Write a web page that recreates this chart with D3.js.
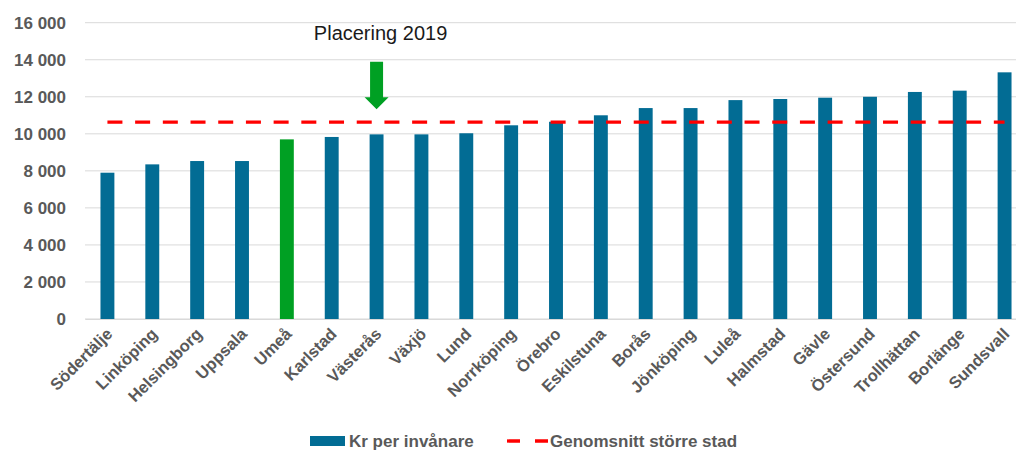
<!DOCTYPE html>
<html>
<head>
<meta charset="utf-8">
<script src="https://cdn.jsdelivr.net/npm/d3@7"></script>
<style>
  body { margin: 0; background: #fff; }
  svg { display: block; }
  text { font-family: "Liberation Sans", Arial, sans-serif; }
</style>
</head>
<body>
<svg id="chart"></svg>
<script>
// data
const cities = ["Södertälje", "Linköping", "Helsingborg", "Uppsala", "Umeå", "Karlstad", "Västerås",
    "Växjö", "Lund", "Norrköping", "Örebro", "Eskilstuna", "Borås", "Jönköping", "Luleå",
    "Halmstad", "Gävle", "Östersund", "Trollhättan", "Borlänge", "Sundsvall"];
const krPerInvanare = [7900, 8350, 8530, 8530, 9700, 9830, 9970, 9970, 10030, 10460, 10650,
    11000, 11390, 11390, 11820, 11880, 11950, 12000, 12260, 12330, 13320];
const genomsnitt = 10630;
const highlightCity = "Umeå";
const markedCity = "Västerås";
const annotationText = "Placering 2019";
const yTicks = [0, 2000, 4000, 6000, 8000, 10000, 12000, 14000, 16000];
const seriesNames = ["Kr per invånare", "Genomsnitt större stad"];

const width = 1016, height = 452;
const margin = { top: 22.7, right: -11, bottom: 133, left: 85 };
const innerW = width - margin.left - margin.right;
const innerH = height - margin.top - margin.bottom;

const blue = "#026c94", green = "#00a023", red = "#ff0000", grey = "#595959";

const svg = d3.select("#chart").attr("width", width).attr("height", height);
const g = svg.append("g").attr("transform", "translate(" + margin.left + "," + margin.top + ")");

const x = d3.scaleBand().domain(cities).range([0, innerW]).paddingInner(0.69).paddingOuter(0.345);
const y = d3.scaleLinear().domain([0, 16000]).range([innerH, 0]);

const fmt = v => d3.format(",")(v).replace(/,/g, "\u2009");

// gridlines
g.append("g").selectAll("line")
    .data(yTicks)
    .join("line")
    .attr("x1", 0).attr("x2", innerW)
    .attr("y1", d => y(d)).attr("y2", d => y(d))
    .attr("stroke", "#d9d9d9").attr("stroke-width", 1);

// y axis labels
const yAxis = g.append("g")
    .call(d3.axisLeft(y).tickValues(yTicks).tickSize(0).tickPadding(19)
        .tickFormat(d => d3.format(",")(d).replace(/,/g, " ")));
yAxis.select(".domain").remove();
yAxis.selectAll("text")
    .attr("fill", grey).attr("font-size", 17).attr("font-weight", "bold")
    .style("font-family", "'Liberation Sans', Arial, sans-serif");

// bars
g.append("g").selectAll("rect")
    .data(cities)
    .join("rect")
    .attr("x", d => x(d))
    .attr("width", x.bandwidth())
    .attr("y", (d, i) => y(krPerInvanare[i]))
    .attr("height", (d, i) => y(0) - y(krPerInvanare[i]))
    .attr("fill", d => d === highlightCity ? green : blue);

// x axis
const xAxis = g.append("g")
    .attr("transform", "translate(0," + innerH + ")")
    .call(d3.axisBottom(x).tickSize(0).tickPadding(0));
xAxis.select(".domain").attr("stroke", "#d9d9d9");
xAxis.selectAll("text")
    .attr("fill", grey).attr("font-size", 16.5).attr("font-weight", "bold")
    .style("font-family", "'Liberation Sans', Arial, sans-serif")
    .attr("text-anchor", "end")
    .attr("dy", 0)
    .attr("transform", "translate(6,16) rotate(-45)");

// average line
const first = cities[0], last = cities[cities.length - 1];
g.append("line")
    .attr("x1", x(first) + x.bandwidth() / 2)
    .attr("x2", x(last) + x.bandwidth() / 2)
    .attr("y1", y(genomsnitt)).attr("y2", y(genomsnitt))
    .attr("stroke", red).attr("stroke-width", 3.3)
    .attr("stroke-dasharray", "15 12.7");

// annotation
const ax = x(markedCity) + x.bandwidth() / 2;
g.append("text")
    .attr("x", ax + 4).attr("y", 17)
    .attr("text-anchor", "middle")
    .attr("font-size", 20).attr("fill", "#1a1a1a")
    .text(annotationText);
const arrowTop = 39, shaftEnd = 74.5, tip = 86.5;
g.append("path")
    .attr("d", d3.line()([
        [ax - 6.5, arrowTop], [ax + 6.5, arrowTop], [ax + 6.5, shaftEnd], [ax + 12, shaftEnd],
        [ax, tip], [ax - 12, shaftEnd], [ax - 6.5, shaftEnd]
    ]) + "Z")
    .attr("fill", green);

// legend
const legend = svg.append("g").attr("transform", "translate(0,441)");
legend.append("rect").attr("x", 310).attr("y", -5).attr("width", 35).attr("height", 10).attr("fill", blue);
legend.append("text").attr("x", 349).attr("y", 6)
    .attr("font-size", 17).attr("font-weight", "bold").attr("fill", grey)
    .text(seriesNames[0]);
legend.append("line").attr("x1", 507).attr("x2", 548).attr("y1", 0).attr("y2", 0)
    .attr("stroke", red).attr("stroke-width", 3.3).attr("stroke-dasharray", "13 15");
legend.append("text").attr("x", 550).attr("y", 6)
    .attr("font-size", 17).attr("font-weight", "bold").attr("fill", grey)
    .text(seriesNames[1]);
</script>
</body>
</html>
